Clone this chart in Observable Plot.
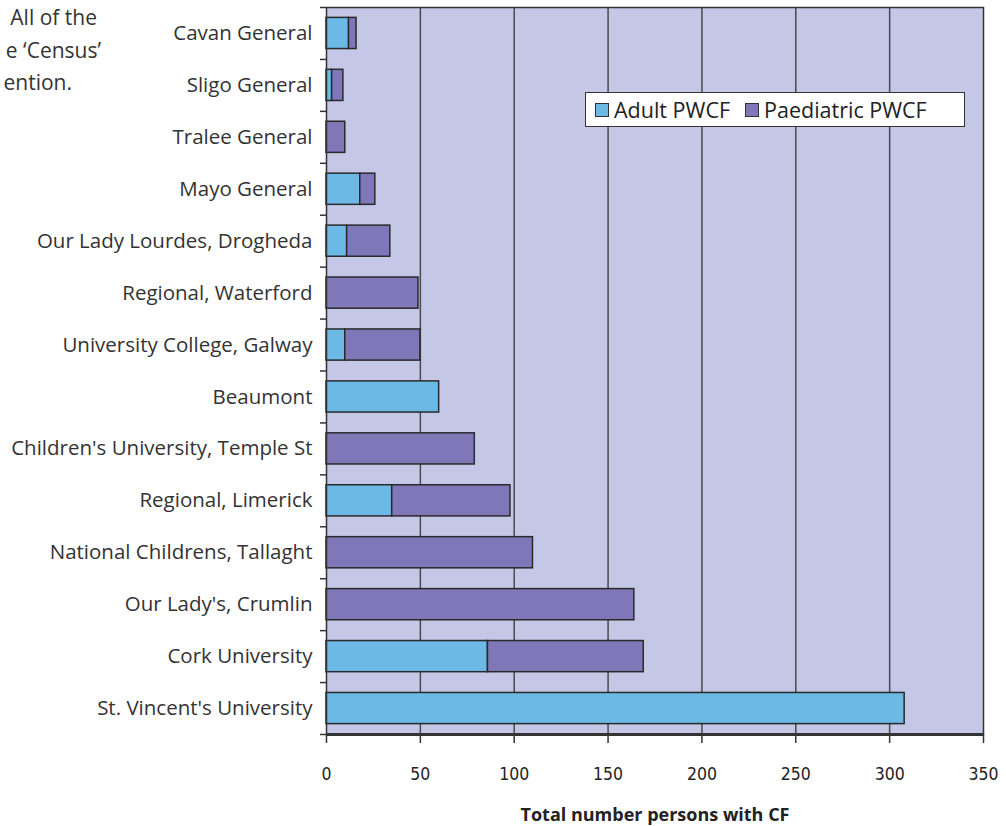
<!DOCTYPE html>
<html><head><meta charset="utf-8">
<script src="https://cdn.jsdelivr.net/npm/d3@7"></script>
<script src="https://cdn.jsdelivr.net/npm/@observablehq/plot@0.6"></script>
<style>
html,body{margin:0;padding:0;background:#fff;overflow:hidden;}
#wrap{position:relative;width:1006px;height:826px;overflow:hidden;}
.frag{position:absolute;font-family:"Open Sans",Lato,sans-serif;font-size:21px;color:#333;white-space:nowrap;line-height:1;}
#legend{position:absolute;left:585px;top:92px;width:378px;height:33px;background:#fff;border:1.5px solid #333;box-sizing:content-box;
  font-family:"Open Sans",Lato,sans-serif;font-size:21.5px;color:#222;display:flex;align-items:center;}
#legend .sw{display:inline-block;width:12px;height:12px;border:1.5px solid #333;margin:0 5px 0 9px;}
#legend .sw.second{margin-left:15px;}
svg g[aria-label="x-axis tick label"]{font-family:"Liberation Sans Narrow","DejaVu Sans Condensed",sans-serif;font-size:17.5px;}
</style></head><body><div id="wrap"></div>
<script>
const hospitals = [
  "Cavan General","Sligo General","Tralee General","Mayo General",
  "Our Lady Lourdes, Drogheda","Regional, Waterford","University College, Galway",
  "Beaumont","Children's University, Temple St","Regional, Limerick",
  "National Childrens, Tallaght","Our Lady's, Crumlin","Cork University","St. Vincent's University"
];
const adult      = [12, 3, 0, 18, 11, 0, 10, 60, 0, 35, 0, 0, 86, 308];
const paediatric = [ 4, 6, 10, 8, 23, 49, 40, 0, 79, 63, 110, 164, 83, 0];
const seriesNames = ["Adult PWCF", "Paediatric PWCF"];
const seriesColors = ["#6CB9E6", "#7F77B8"];
const xTicks = [0, 50, 100, 150, 200, 250, 300, 350];
const xLabel = "Total number persons with CF";
const textFragments = ["All of the", "e \u2018Census\u2019", "ention."];

const rows = [];
hospitals.forEach((h, i) => { if (adult[i] > 0) rows.push({hospital: h, series: seriesNames[0], value: adult[i]}); });
hospitals.forEach((h, i) => { if (paediatric[i] > 0) rows.push({hospital: h, series: seriesNames[1], value: paediatric[i]}); });

const W = 1006, H = 826, mT = 7, mB = 92, mL = 326, mR = 23;
const step = (H - mT - mB) / hospitals.length;
const inset = step * 0.2;
const dark = "#333";

const chart = Plot.plot({
  width: W, height: H,
  marginLeft: mL, marginRight: mR, marginTop: mT, marginBottom: mB,
  style: {fontFamily: "'Open Sans', Lato, sans-serif", fontSize: "20.5px", color: "#333", background: "transparent"},
  x: {domain: [0, 350], axis: null},
  y: {domain: hospitals, padding: 0, round: false, axis: null},
  color: {domain: seriesNames, range: seriesColors},
  marks: [
    Plot.frame({fill: "#C4C7E6", stroke: null}),
    Plot.ruleX(xTicks.slice(1, -1), {stroke: "#4a4a4a", strokeWidth: 1.5}),
    Plot.barX(rows, Plot.stackX({x: "value", y: "hospital", fill: "series", stroke: "#2a2a2a", strokeWidth: 1.5,
      insetTop: inset, insetBottom: inset, order: seriesNames})),
    Plot.frame({stroke: dark, strokeWidth: 1.5}),
    Plot.ruleY([hospitals[hospitals.length - 1]], {dy: step / 2, stroke: dark, strokeWidth: 3}),
    Plot.ruleY(hospitals, {dy: -step / 2, x1: () => 0, x2: () => 0, insetLeft: -6, stroke: dark, strokeWidth: 1.5}),
    Plot.ruleY([hospitals[hospitals.length - 1]], {dy: step / 2, x1: () => 0, x2: () => 0, insetLeft: -6, stroke: dark, strokeWidth: 1.5}),
    Plot.axisY({tickSize: 0, tickPadding: 14, label: null, fontSize: 20.5, fill: "#333"}),
    Plot.axisX({ticks: xTicks, tickSize: 9, tickPadding: 24, label: null, stroke: dark, strokeWidth: 1.5, fill: "#222", tickFormat: d => String(d)}),
    Plot.text([xLabel], {frameAnchor: "bottom", dy: 81, lineAnchor: "middle", fontWeight: "bold", fontSize: 18, fill: "#222", fontFamily: "'Open Sans', sans-serif"})
  ]
});

const wrap = document.getElementById("wrap");
wrap.appendChild(chart);

// clipped fragment of surrounding page text (right edges as in the reference)
const fragPos = [[97, 7], [101, 40], [72, 72]];
textFragments.forEach((t, i) => {
  const d = document.createElement("div");
  d.className = "frag";
  d.style.right = (W - fragPos[i][0]) + "px";
  d.style.top = fragPos[i][1] + "px";
  d.textContent = t;
  wrap.appendChild(d);
});

// legend
const lg = document.createElement("div");
lg.id = "legend";
seriesNames.forEach((s, i) => {
  const sw = document.createElement("span");
  sw.className = "sw" + (i > 0 ? " second" : ""); sw.style.background = seriesColors[i];
  lg.appendChild(sw);
  const tx = document.createElement("span");
  tx.textContent = s;
  lg.appendChild(tx);
});
wrap.appendChild(lg);
</script>
</body></html>
